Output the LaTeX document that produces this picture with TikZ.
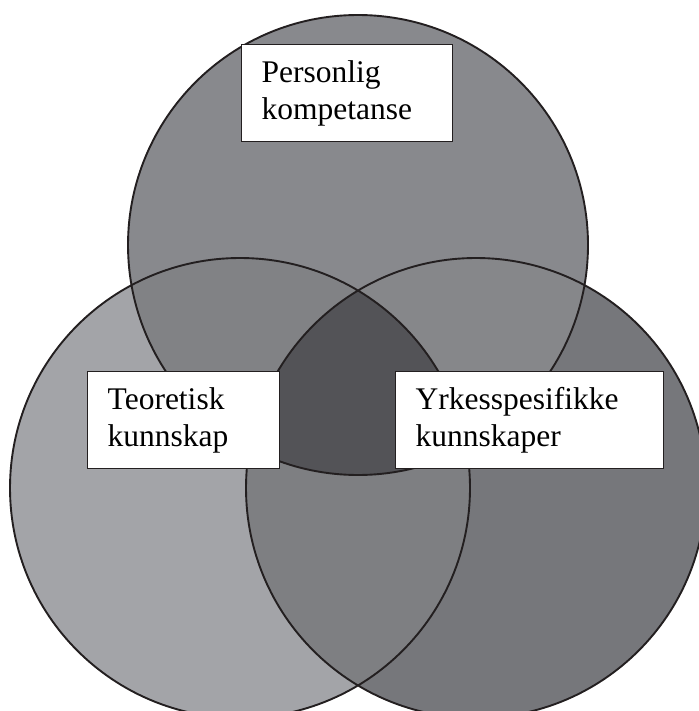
\documentclass[tikz,border=0pt]{standalone}
\usepackage{fontspec}
\setmainfont{Liberation Serif}

\definecolor{ink}{RGB}{35,31,32}
\definecolor{toponly}{RGB}{136,137,141}
\definecolor{leftonly}{RGB}{163,164,168}
\definecolor{rightonly}{RGB}{118,119,123}
\definecolor{topleft}{RGB}{129,130,133}
\definecolor{topright}{RGB}{134,135,138}
\definecolor{leftright}{RGB}{126,127,130}
\definecolor{allthree}{RGB}{83,83,87}

\begin{document}
\begin{tikzpicture}[x=1pt,y=-1pt,
    outline/.style={draw=ink,line width=1.9pt},
    tagbox/.style={draw=ink,fill=white,line width=1.4pt,anchor=north west,
      align=left,inner xsep=20pt,inner ysep=0pt,minimum height=97pt,
      font=\fontsize{31.5}{37}\selectfont}]
  \useasboundingbox (0,0) rectangle (698,711);
  \def\person{(358,245) circle (230)}
  \def\teori{(240,488) circle (230)}
  \def\yrke{(476,488) circle (230)}
  % plain circles
  \fill[leftonly] \teori;
  \fill[rightonly] \yrke;
  \fill[toponly] \person;
  % overlaps
  \begin{scope}
    \clip \teori;
    \fill[leftright] \yrke;
  \end{scope}
  \begin{scope}
    \clip \person;
    \fill[topleft] \teori;
    \fill[topright] \yrke;
    \clip \teori;
    \fill[allthree] \yrke;
  \end{scope}
  \draw[outline] \person \teori \yrke;
  % labels
  \node[tagbox,text width=171pt] (personlig) at (241,44) {Personlig\\kompetanse};
  \node[tagbox,text width=152pt] (teoretisk) at (87,371) {Teoretisk\\kunnskap};
  \node[tagbox,text width=228pt] (yrke) at (395,371) {Yrkesspesifikke\\kunnskaper};
\end{tikzpicture}
\end{document}
